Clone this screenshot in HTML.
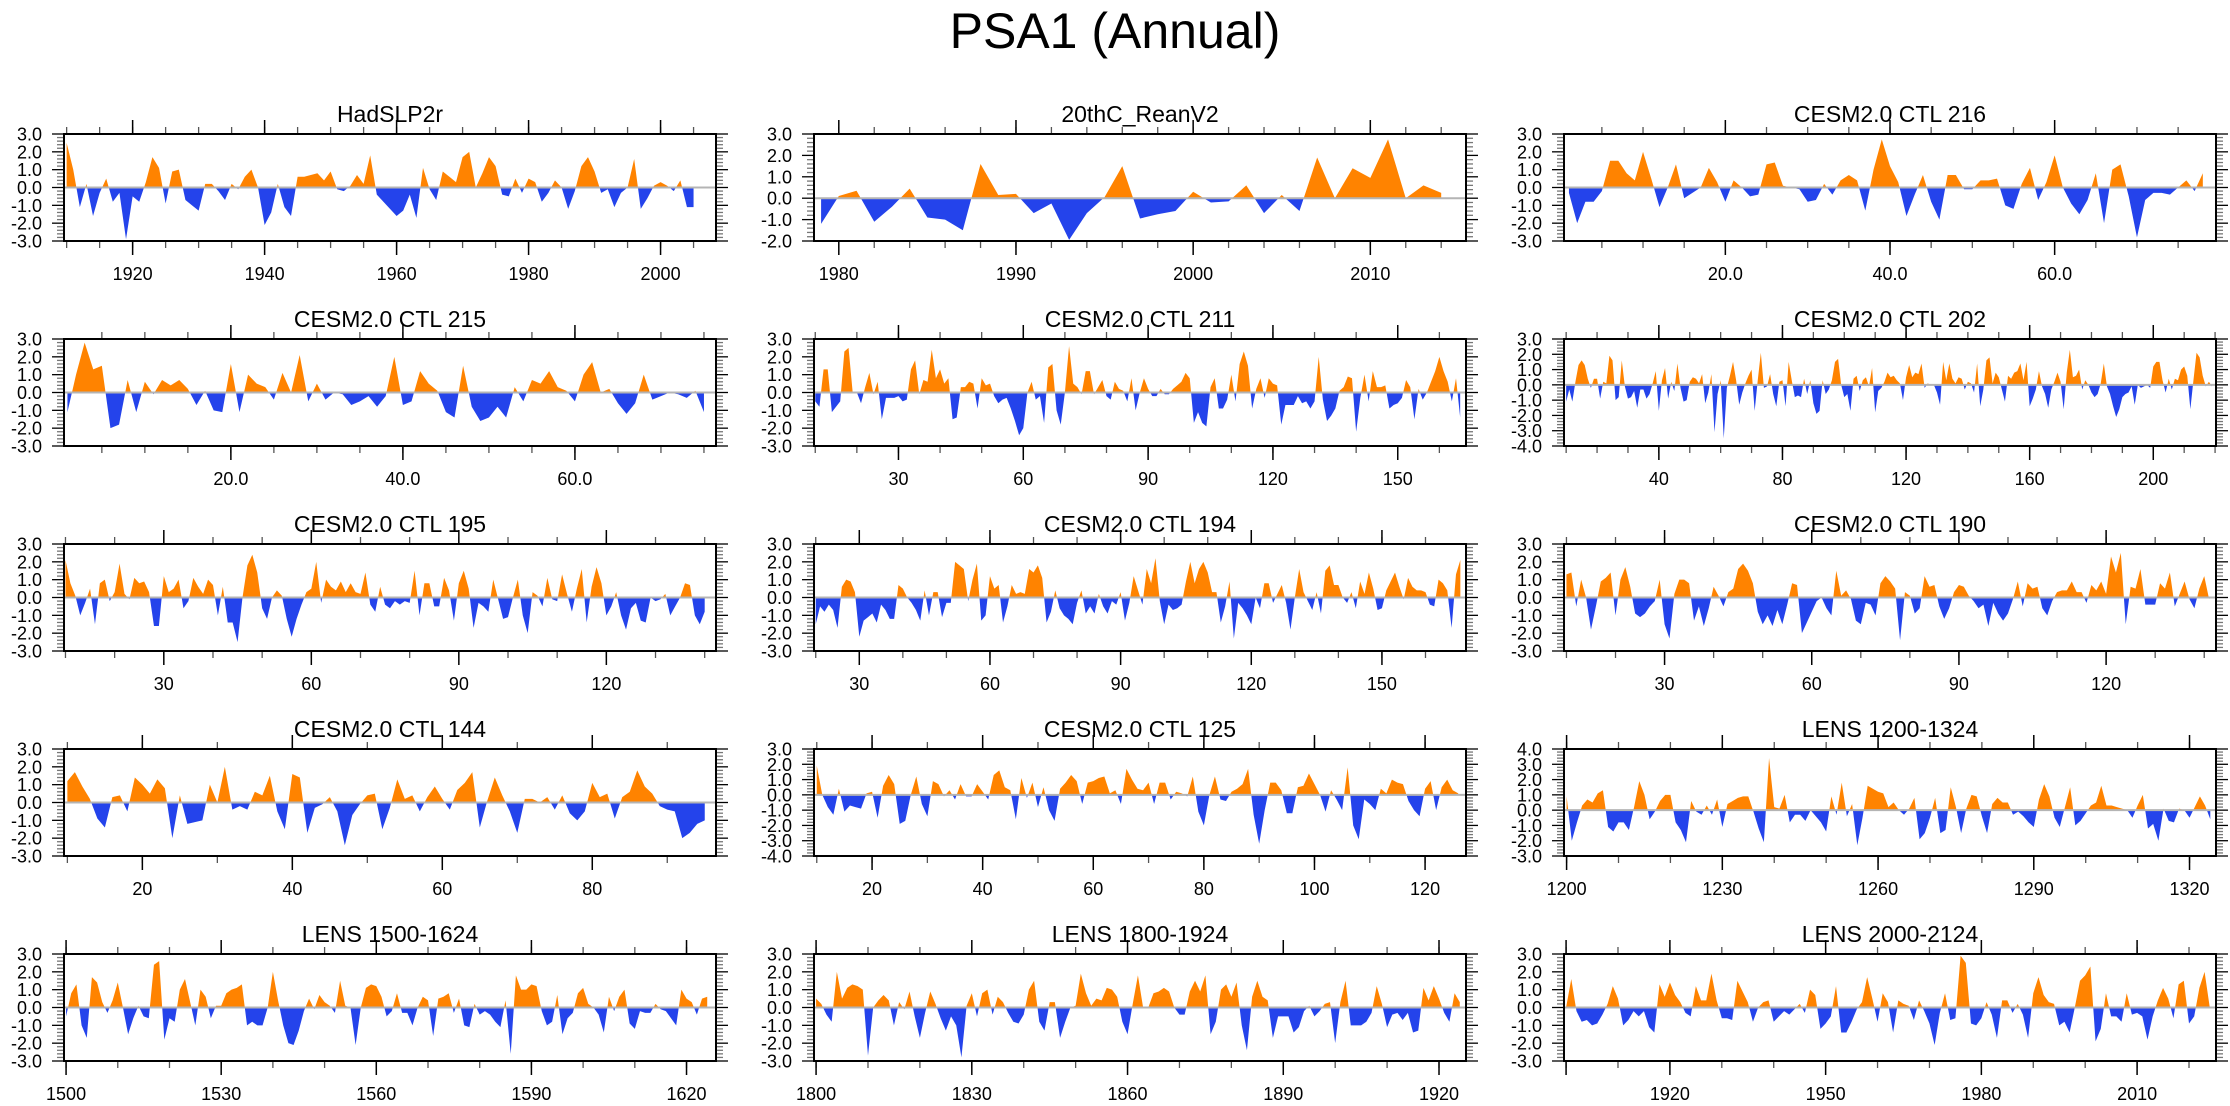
<!DOCTYPE html>
<html><head><meta charset="utf-8"><title>PSA1 (Annual)</title>
<style>
html,body{margin:0;padding:0;background:#fff;}
svg{display:block;font-family:"Liberation Sans",Arial,sans-serif;}
</style></head>
<body>
<svg id="chart" xmlns="http://www.w3.org/2000/svg" width="2230" height="1106" viewBox="0 0 2230 1106">
<text x="1115" y="48" text-anchor="middle" font-size="50" fill="#000">PSA1 (Annual)</text>
</svg>
<script>
// ---- data ----
const titles = ["HadSLP2r","20thC_ReanV2","CESM2.0 CTL 216","CESM2.0 CTL 215","CESM2.0 CTL 211","CESM2.0 CTL 202","CESM2.0 CTL 195","CESM2.0 CTL 194","CESM2.0 CTL 190","CESM2.0 CTL 144","CESM2.0 CTL 125","LENS 1200-1324","LENS 1500-1624","LENS 1800-1924","LENS 2000-2124"];
const startX = [1910,1979,1,1,10,10,10,20,10,10,10,1200,1500,1800,1900];
const xMin = [1909.6,1978.6,0.4,0.6,9.7,9.3,9.7,19.6,9.5,9.55,9.5,1199.5,1499.6,1799.6,1899.6];
const xMax = [2008.4,2015.4,79.6,76.4,166.4,220.3,142.3,169.3,142.4,96.5,127.4,1325.1,1625.7,1925.2,2025.2];
const yMin = [-3,-2,-3,-3,-3,-4,-3,-3,-3,-3,-4,-3,-3,-3,-3];
const yMax = [3,3,3,3,3,3,3,3,3,3,3,4,3,3,3];
const majorTicks = [
 [1920,1940,1960,1980,2000],[1980,1990,2000,2010],[20,40,60],[20,40,60],[30,60,90,120,150],
 [40,80,120,160,200],[30,60,90,120],[30,60,90,120,150],[30,60,90,120],[20,40,60,80],
 [20,40,60,80,100,120],[1200,1230,1260,1290,1320],[1500,1530,1560,1590,1620],[1800,1830,1860,1890,1920],[1900,1920,1950,1980,2010]];
const tickLabels = [
 ["1920","1940","1960","1980","2000"],["1980","1990","2000","2010"],["20.0","40.0","60.0"],["20.0","40.0","60.0"],["30","60","90","120","150"],
 ["40","80","120","160","200"],["30","60","90","120"],["30","60","90","120","150"],["30","60","90","120"],["20","40","60","80"],
 ["20","40","60","80","100","120"],["1200","1230","1260","1290","1320"],["1500","1530","1560","1590","1620"],["1800","1830","1860","1890","1920"],["","1920","1950","1980","2010"]];
const minorStep = [5,2,5,5,10,10,10,10,10,10,10,10,10,10,10];

const hadslp = [2.5,1.0,-1.1,0.2,-1.6,-0.3,0.5,-0.8,-0.3,-2.9,-0.5,-0.8,0.3,1.7,1.1,-0.9,0.9,1.0,-0.7,-1.0,-1.3,0.2,0.2,-0.2,-0.7,0.2,-0.1,0.6,1.0,0.0,-2.1,-1.4,0.2,-1.1,-1.6,0.6,0.6,0.7,0.8,0.4,0.9,-0.1,-0.2,0.1,0.7,0.2,1.8,-0.4,-0.8,-1.2,-1.6,-1.3,-0.4,-1.7,1.1,-0.1,-0.7,0.9,0.6,0.3,1.7,2.0,0.0,0.8,1.7,1.2,-0.4,-0.5,0.5,-0.3,0.5,0.3,-0.8,-0.3,0.4,0.0,-1.2,-0.2,1.2,1.7,0.9,-0.3,-0.1,-1.1,-0.3,0.0,1.6,-1.2,-0.6,0.1,0.3,0.1,-0.2,0.4,-1.1,-1.1];
const rean = [-1.2,0.1,0.35,-1.1,-0.4,0.45,-0.9,-1.0,-1.5,1.6,0.15,0.2,-0.7,-0.25,-1.95,-0.7,0.05,1.5,-0.95,-0.75,-0.6,0.3,-0.2,-0.15,0.6,-0.7,0.15,-0.6,1.9,0.0,1.4,0.95,2.75,0.0,0.6,0.25];
const ctl216 = [-0.3,-2.0,-0.8,-0.8,-0.2,1.5,1.5,0.8,0.4,2.0,0.5,-1.1,0.0,1.3,-0.6,-0.3,0.0,1.1,0.3,-0.8,0.4,0.0,-0.5,-0.4,1.3,1.4,0.1,0.0,-0.1,-0.8,-0.7,0.2,-0.4,0.4,0.7,0.4,-1.3,1.0,2.7,1.2,0.3,-1.6,-0.4,0.7,-0.8,-1.8,0.7,0.7,-0.1,-0.1,0.4,0.4,0.5,-1.0,-1.2,0.2,1.1,-0.7,0.3,1.8,0.0,-0.9,-1.5,-0.7,0.8,-2.0,1.0,1.3,-0.5,-2.8,-0.7,-0.3,-0.3,-0.4,0.0,0.4,-0.2,0.8];
const ctl215 = [-1.1,1.0,2.8,1.3,1.5,-2.0,-1.8,0.7,-1.1,0.6,-0.1,0.7,0.4,0.7,0.2,-0.7,0.1,-1.0,-1.1,1.6,-1.1,1.0,0.5,0.3,-0.4,1.1,0.0,2.1,-0.5,0.5,-0.4,0.0,-0.1,-0.7,-0.5,-0.2,-0.8,-0.2,2.0,-0.7,-0.5,1.2,0.5,0.1,-1.1,-1.4,1.5,-0.8,-1.6,-1.4,-0.8,-1.4,0.3,-0.5,0.7,0.5,1.2,0.3,0.1,-0.5,1.0,1.7,0.0,0.2,-0.6,-1.2,-0.6,1.0,-0.4,-0.2,0.0,-0.1,-0.3,0.1,-1.1];
const ctl211 = [-0.5,-0.8,1.3,1.3,-1.1,-0.8,-0.5,2.3,2.5,0.0,0.0,-0.6,0.3,1.1,-0.1,0.6,-1.5,-0.3,-0.3,-0.3,-0.2,-0.5,-0.4,1.3,1.8,-0.1,0.7,0.6,2.4,0.8,1.3,0.5,0.8,-1.5,-1.4,0.3,0.3,0.6,0.5,-0.9,0.8,0.4,0.5,-0.2,-0.6,-0.4,-0.3,-0.9,-1.6,-2.4,-2.0,0.0,0.6,-0.4,-0.2,-1.7,1.4,1.6,-1.0,-1.8,0.0,2.6,0.5,0.3,-0.1,1.2,1.2,-0.1,0.3,0.7,-0.2,-0.4,0.6,0.2,0.1,-0.5,0.8,-1.0,0.0,0.8,0.2,-0.2,-0.2,0.2,-0.1,-0.1,0.2,0.4,0.6,1.1,0.8,-1.7,-1.1,-1.7,-1.9,0.3,0.8,-0.9,-0.9,-0.4,1.0,-0.5,1.6,2.3,1.5,-0.9,0.2,0.8,-0.3,0.8,0.5,0.4,-1.8,-0.7,-0.7,-0.7,-0.2,-0.6,-0.5,-0.9,-0.5,2.0,-0.4,-1.6,-1.3,-0.9,0.1,0.3,0.9,0.8,-2.2,-0.3,1.0,-0.5,1.2,0.3,0.3,0.4,-0.9,-0.7,-0.6,-0.3,0.7,0.3,-1.5,0.2,-0.4,0.0,0.6,1.2,2.0,1.2,0.6,-0.5,0.8,-1.4];
const ctl202 = [-1.1,-0.3,-1.1,0.2,1.3,1.6,1.3,0.4,-0.2,0.4, 0.4,-0.9,0.2,0.1,1.9,1.6,-1.0,-0.8,1.6,-0.1, -0.9,-0.8,-0.4,-1.5,-0.3,-0.3,-0.9,-0.6,0.1,0.9, -1.7,0.3,1.1,-0.9,0.2,-0.4,1.4,-0.2,-1.1,-1.0, 0.2,0.5,0.4,0.1,0.7,-1.2,-0.5,0.7,-3.1,-0.6, 0.3,-3.5,-0.2,0.6,1.5,0.3,-1.3,-0.5,0.1,0.6, 1.0,-1.7,0.3,2.1,-0.2,-0.1,0.7,-0.6,-1.4,0.2, 0.3,-1.4,1.5,0.3,-0.8,-0.7,-0.8,0.4,-0.6,0.3, -1.2,-1.9,-1.7,0.3,-0.6,-0.3,0.3,1.5,1.7,0.0, -0.8,-0.6,-1.7,0.4,0.6,-0.4,0.3,0.5,-0.1,1.1, -1.8,-0.4,-0.2,0.2,0.8,0.5,0.6,0.3,0.1,-1.0, 0.5,1.3,0.5,0.8,0.7,1.4,-0.2,0.1,0.0,0.0, -0.5,-1.3,1.5,0.3,1.4,0.4,0.1,0.5,0.4,-0.3, 0.2,0.1,-0.5,1.4,-1.4,-0.3,1.6,1.8,0.1,0.8, 0.5,-0.3,-1.1,0.6,0.4,0.8,0.9,1.4,0.3,1.5, -1.4,-0.9,-0.3,0.9,-0.1,-0.6,-1.5,-0.3,0.2,0.8, 0.2,-1.6,0.8,2.3,0.5,0.6,1.0,-0.3,0.3,0.0, -0.5,-0.8,-0.6,0.1,1.4,-0.1,-0.6,-1.4,-2.1,-1.6, -0.8,-0.6,-0.5,-0.1,-1.3,0.0,-0.2,-0.1,0.0,-0.2, 1.2,1.5,1.5,0.3,-0.5,0.4,-0.3,0.4,0.3,1.0, 1.2,0.6,-1.6,0.3,2.1,1.8,0.6,-0.1,0.2,-0.1];
const ctl195 = [2.1,0.8,0.1,-1.0,-0.3,0.5,-1.5,0.8,1.0,-0.2,0.3,1.9,0.2,-0.1,1.1,0.8,0.9,0.3,-1.6,-1.6,1.2,0.3,0.5,1.0,-0.6,-0.2,1.1,0.6,0.2,1.0,0.7,-1.0,0.6,-1.4,-1.4,-2.5,0.0,1.8,2.4,1.4,-0.6,-1.2,0.0,0.4,0.1,-1.2,-2.2,-1.2,-0.4,0.3,0.5,2.0,-0.3,1.0,0.6,0.4,0.9,0.3,0.8,0.3,0.2,1.4,-0.4,-0.8,0.6,-0.4,-0.6,-0.2,-0.4,-0.2,-0.3,1.5,-1.0,0.8,0.8,-0.5,-0.5,1.1,0.4,-1.3,0.8,1.5,0.5,-1.7,-0.3,-0.5,-0.8,1.0,-0.1,-1.2,-1.1,0.0,1.0,-1.0,-2.0,0.3,0.1,-0.5,1.1,-0.1,-0.2,1.3,0.2,-0.8,0.5,1.6,-1.4,0.6,1.7,0.8,-1.0,-0.5,0.3,-1.0,-1.8,-0.6,-0.3,-1.3,-1.4,0.0,-0.2,-0.1,0.2,-1.0,-0.5,0.0,0.8,0.7,-1.0,-1.5,-0.8];
const ctl194 = [-1.5,-0.5,-0.8,-0.4,-0.7,-1.7,0.6,1.0,0.9,0.3,-2.2,-1.3,-1.1,-0.9,-1.4,-0.4,-0.7,-1.2,-1.2,0.7,0.5,0.0,-0.3,-0.7,-1.3,0.4,-1.0,0.3,0.3,-1.1,-0.3,-0.3,2.0,1.8,1.6,-0.2,1.0,1.9,-1.3,-1.0,1.2,0.5,0.7,-1.4,-0.5,0.7,0.2,0.3,0.2,1.6,1.4,1.8,1.1,-1.4,-0.8,0.4,-0.6,-1.0,-1.2,-1.5,-0.3,0.4,-0.9,-0.5,-0.9,0.2,-0.5,-0.9,-0.2,-0.4,0.3,-1.3,-0.3,1.2,0.4,-0.4,1.6,0.8,2.2,-0.2,-1.5,-0.4,-0.7,-0.6,-0.4,0.9,2.0,0.8,1.6,2.0,1.4,0.3,0.3,-1.4,-0.5,0.9,-2.3,-0.3,-0.6,-1.0,-1.5,0.0,-0.6,0.8,0.8,-0.3,0.2,0.7,-0.3,-1.8,0.0,1.6,0.3,-0.2,-0.7,0.3,-0.9,1.5,1.8,0.7,0.7,0.0,-0.3,0.3,-0.6,0.9,0.2,1.4,0.5,-0.7,-0.6,0.4,0.9,1.4,0.6,-0.1,1.1,0.6,0.4,0.4,0.3,-0.4,-0.5,1.0,0.8,0.4,-1.7,1.3,2.1];
const ctl190 = [1.3,1.4,-0.5,1.0,0.0,-1.8,-0.5,0.9,1.1,1.4,-1.0,1.0,1.7,0.6,-0.9,-1.1,-0.9,-0.5,-0.2,1.0,-1.5,-2.3,0.2,1.0,1.0,0.8,-1.3,-0.5,-1.6,-0.6,0.6,0.1,-0.5,0.3,0.5,1.6,1.9,1.5,0.8,-0.8,-1.5,-1.0,-1.6,-0.7,-1.5,-0.4,0.8,0.7,-2.0,-1.4,-0.8,-0.2,0.0,-0.6,-1.0,1.5,0.1,0.4,-0.1,-1.3,-1.5,-0.3,-0.4,-1.0,0.8,1.2,0.9,0.5,-2.4,0.3,0.1,-0.9,-0.6,1.2,0.6,0.7,-0.5,-1.2,-0.6,0.3,0.7,0.6,0.1,-0.2,-0.6,-0.4,-1.6,-0.3,-0.9,-1.3,-0.9,-0.1,0.9,-0.5,0.8,0.5,0.6,-0.6,-1.0,-0.2,0.3,0.4,0.4,0.9,0.3,0.3,-0.3,0.7,0.4,0.9,0.2,2.3,1.4,2.5,-1.5,0.6,0.5,1.6,-0.4,-0.4,-0.4,0.8,0.5,1.4,-0.5,0.2,0.9,-0.1,-0.6,0.5,1.2,-0.1];
const ctl144 = [1.2,1.7,0.9,0.2,-0.9,-1.4,0.3,0.4,-0.5,1.4,1.0,0.5,1.3,0.8,-2.0,0.4,-1.2,-1.1,-1.0,1.0,0.0,2.0,-0.4,-0.2,-0.4,0.6,0.4,1.5,-0.5,-1.5,1.6,1.4,-1.7,-0.3,-0.1,0.3,-0.5,-2.4,-0.7,-0.1,0.4,0.5,-1.5,-0.3,1.3,0.2,0.4,-0.5,0.3,0.9,0.2,-0.4,0.7,1.1,1.7,-1.4,0.1,1.4,0.4,-0.5,-1.7,0.2,0.2,0.0,0.3,-0.4,0.4,-0.6,-1.0,-0.5,1.1,0.3,0.5,-0.9,0.3,0.6,1.8,0.9,0.5,-0.2,-0.4,-0.5,-2.0,-1.7,-1.2,-1.0];
const ctl125 = [1.9,0.0,-0.8,-1.3,0.4,-1.1,-0.7,-0.8,-0.9,0.1,0.2,-1.5,0.6,1.3,0.7,-1.9,-1.7,0.0,1.2,-0.6,-1.4,0.9,0.7,-0.1,0.3,-0.3,0.7,-0.1,-0.1,0.7,0.2,-0.3,1.3,1.6,0.5,0.3,-1.6,1.1,-0.2,0.8,-0.8,0.5,-1.0,-1.7,0.4,0.8,1.3,0.9,-0.6,0.8,0.9,1.1,1.2,0.1,0.3,-0.6,1.7,1.0,0.4,0.3,0.8,-0.6,0.8,0.8,-0.3,0.2,0.1,-0.1,1.2,-1.1,-2.0,0.0,1.2,-0.3,-0.4,0.2,0.4,0.7,1.7,-1.3,-3.2,-1.0,0.8,0.8,0.3,-1.2,-1.2,0.5,0.6,1.4,0.7,0.0,-1.1,0.3,-0.3,-1.0,1.8,-2.0,-2.9,-0.3,-0.6,-1.0,0.4,0.1,1.0,0.8,0.7,-0.4,-1.0,-1.4,0.4,0.9,-1.0,0.5,1.0,0.3,0.1];
const lens1200 = [0.9,-2.0,-0.8,0.3,0.7,0.5,1.1,1.3,-1.1,-1.4,-0.8,-0.8,-1.3,0.2,1.9,1.0,-0.6,-0.1,0.6,1.0,1.0,-0.8,-1.3,-2.1,0.6,-0.1,-0.3,0.3,-0.3,0.7,-1.1,0.4,0.6,0.8,0.9,0.9,-0.1,-1.2,-2.1,3.4,0.2,0.1,1.0,-0.8,-0.3,-0.3,-0.7,0.0,-0.4,-0.8,-1.4,0.9,-0.3,1.8,-0.4,0.4,-2.3,-0.5,1.6,1.4,1.2,1.1,0.2,0.5,0.0,-0.3,0.1,0.8,-1.9,-1.5,-0.5,0.8,-1.5,-1.3,1.5,0.2,-1.5,0.1,1.0,0.9,-0.4,-1.5,0.4,0.8,0.5,0.5,-0.3,-0.1,-0.4,-0.8,-1.1,0.7,1.7,0.9,-0.5,-1.1,0.2,1.5,-1.0,-0.7,-0.2,0.3,0.5,1.6,0.3,0.3,0.2,0.1,0.0,-0.5,0.3,1.0,-1.2,-0.9,-2.0,0.1,-0.7,-0.8,0.1,0.0,-0.5,0.2,0.9,0.3,-0.6];
const lens1500 = [-0.5,0.8,1.3,-1.0,-1.7,1.7,1.4,0.3,-0.3,0.4,1.4,0.0,-1.5,-0.6,0.1,-0.5,-0.6,2.4,2.6,-1.8,-0.6,-0.8,1.0,1.6,0.3,-1.0,1.0,0.6,-0.6,0.1,0.1,0.8,1.0,1.1,1.3,-1.0,-0.8,-1.0,-1.0,0.0,2.0,0.4,-1.0,-2.0,-2.1,-1.3,-0.2,0.5,-0.1,0.7,0.3,0.1,-0.3,1.5,0.1,0.0,-2.1,0.0,1.1,1.3,1.2,0.6,-0.5,-0.2,0.8,-0.3,-0.3,-1.0,0.0,0.6,0.4,-1.6,0.5,0.6,0.8,-0.3,0.5,-1.0,-1.1,0.2,-0.4,-0.2,-0.4,-0.8,-1.1,0.4,-2.6,1.8,1.0,1.0,1.3,1.2,-0.2,-1.0,-0.8,0.7,-1.5,-0.6,-0.3,0.8,1.1,0.2,0.0,-0.4,-1.4,0.6,-0.2,0.6,1.0,-0.9,-1.2,-0.2,-0.3,-0.3,0.2,-0.1,-0.2,-0.6,-1.0,1.0,0.5,0.3,-0.4,0.5,0.6];
const lens1800 = [0.5,0.2,-0.4,-0.8,2.0,0.5,1.1,1.3,1.2,1.0,-2.7,0.0,0.4,0.7,0.4,-1.0,0.3,-0.1,0.9,-0.5,-1.7,-0.3,0.9,0.2,-0.6,-1.3,-0.5,-1.0,-2.8,0.1,0.8,-0.5,0.8,1.0,-0.4,0.6,0.3,-0.3,-0.8,-0.9,-0.4,1.0,1.5,-0.8,-1.3,0.3,0.3,-1.7,-0.8,0.0,0.1,1.9,0.8,0.1,0.5,0.4,1.1,1.0,0.6,-0.8,-1.5,0.2,1.8,0.0,0.0,0.8,0.9,1.1,0.9,0.0,-0.4,-0.4,0.9,1.5,0.9,1.8,-1.5,-0.8,1.0,1.3,0.6,1.4,-1.0,-2.4,0.6,1.5,0.6,0.4,-1.7,-0.5,-0.5,-0.5,-1.4,-1.1,-0.2,0.1,-0.5,-0.2,0.2,0.3,-2.0,0.3,1.5,-1.0,-1.0,-1.0,-0.8,-0.3,1.2,0.2,-1.1,-0.4,-0.3,-0.7,-0.3,-1.4,-1.3,1.1,0.4,1.2,0.5,-0.3,-0.8,0.8,0.3];
const lens2000 = [0.0,1.6,-0.2,-0.8,-0.7,-1.0,-0.9,-0.4,0.2,1.2,0.5,-1.0,-0.7,-0.2,-0.5,-0.2,-1.1,-1.4,1.3,0.6,1.4,0.7,0.3,-0.3,-0.5,1.2,0.4,0.4,1.9,0.4,-0.6,-0.6,-0.7,1.5,0.9,0.3,-0.8,0.0,0.3,0.4,-0.8,-0.5,-0.2,-0.4,-0.1,0.2,-0.3,1.0,0.7,-1.2,-0.9,-0.5,1.2,-1.4,-1.4,-0.8,-0.1,0.3,1.7,0.5,-0.8,0.8,0.3,-1.4,0.4,0.2,0.1,-0.7,0.4,-0.2,-0.9,-2.1,-0.3,0.8,-0.7,-0.6,2.9,2.5,-0.9,-1.0,-0.6,0.3,-0.4,-1.7,0.4,0.4,-0.3,0.2,-0.4,-1.7,0.8,1.7,0.7,0.3,0.2,-1.0,-0.8,-1.4,0.0,1.5,1.8,2.3,-1.9,-1.2,0.8,-0.5,-0.5,-0.8,0.8,-0.4,-0.3,-0.5,-1.8,-0.5,0.4,1.1,0.5,-0.6,1.3,1.5,-0.9,-0.5,1.1,2.0,0.0];
const seriesValues = [hadslp,rean,ctl216,ctl215,ctl211,ctl202,ctl195,ctl194,ctl190,ctl144,ctl125,lens1200,lens1500,lens1800,lens2000];

// ---- layout ----
const colLeft = [64, 814, 1564];
const rowTop = [134, 339, 544, 749, 954];
const PW = 652, PH = 107;
const ORANGE = "#ff8300", BLUE = "#2443eb";
const NS = "http://www.w3.org/2000/svg";
const svg = document.getElementById("chart");

function el(tag, attrs, parent) {
  const e = document.createElementNS(NS, tag);
  for (const k in attrs) e.setAttribute(k, attrs[k]);
  (parent || svg).appendChild(e);
  return e;
}

const defs = el("defs", {});

for (let p = 0; p < 15; p++) {
  const L = colLeft[p % 3], T = rowTop[Math.floor(p / 3)];
  const x0 = xMin[p], x1 = xMax[p], y0 = yMin[p], y1 = yMax[p];
  const sx = v => L + (v - x0) / (x1 - x0) * PW;
  const sy = v => T + (y1 - v) / (y1 - y0) * PH;
  const slug = titles[p].toLowerCase().replace(/[^a-z0-9]+/g, "-");

  const g = el("g", {});
  
  

  const t = el("text", {x: L + PW / 2, y: T - 12, "text-anchor": "middle", "font-size": 23, fill: "#000"}, g);
  t.textContent = titles[p];
  
  

  // clip paths
  const zy = sy(0);
  const cpA = el("clipPath", {id: "ca" + p}, defs);
  el("rect", {x: L, y: T, width: PW, height: zy - T}, cpA);
  const cpB = el("clipPath", {id: "cb" + p}, defs);
  el("rect", {x: L, y: zy, width: PW, height: T + PH - zy}, cpB);

  const vals = seriesValues[p];
  let d = "M" + sx(startX[p]).toFixed(2) + "," + zy.toFixed(2);
  for (let i = 0; i < vals.length; i++) d += " L" + sx(startX[p] + i).toFixed(2) + "," + sy(vals[i]).toFixed(2);
  d += " L" + sx(startX[p] + vals.length - 1).toFixed(2) + "," + zy.toFixed(2) + " Z";

  const pa = el("path", {d: d, fill: ORANGE, "clip-path": "url(#ca" + p + ")"}, g);
  
  
  const pb = el("path", {d: d, fill: BLUE, "clip-path": "url(#cb" + p + ")"}, g);
  
  

  const zl = el("line", {x1: L, x2: L + PW, y1: zy, y2: zy, stroke: "#b4b4b4", "stroke-width": 2}, g);
  
  

  // y ticks
  for (let k = Math.round(y0 * 5); k <= Math.round(y1 * 5); k++) {
    const v = k / 5, yy = sy(v), major = (k % 5 === 0);
    const len = major ? 12 : 7, col = major ? "#000" : "#777";
    el("line", {x1: L - len, x2: L, y1: yy, y2: yy, stroke: col, "stroke-width": 1.3}, g);
    el("line", {x1: L + PW, x2: L + PW + len, y1: yy, y2: yy, stroke: col, "stroke-width": 1.3}, g);
    if (major) {
      const yl = el("text", {x: L - 22, y: yy + 6.5, "text-anchor": "end", "font-size": 18, fill: "#000"}, g);
      yl.textContent = v.toFixed(1);
      
      
    }
  }
  // x minor ticks
  const ms = minorStep[p];
  for (let v = Math.ceil(x0 / ms) * ms; v <= x1; v += ms) {
    const xx = sx(v);
    el("line", {x1: xx, x2: xx, y1: T + PH, y2: T + PH + 7, stroke: "#555", "stroke-width": 1.3}, g);
    el("line", {x1: xx, x2: xx, y1: T, y2: T - 7, stroke: "#555", "stroke-width": 1.3}, g);
  }
  // x major ticks + labels
  for (let i = 0; i < majorTicks[p].length; i++) {
    const xx = sx(majorTicks[p][i]);
    el("line", {x1: xx, x2: xx, y1: T + PH, y2: T + PH + 14, stroke: "#000", "stroke-width": 1.5}, g);
    el("line", {x1: xx, x2: xx, y1: T, y2: T - 14, stroke: "#000", "stroke-width": 1.5}, g);
    if (tickLabels[p][i]) {
      const xl = el("text", {x: xx, y: T + PH + 39, "text-anchor": "middle", "font-size": 18, fill: "#000"}, g);
      xl.textContent = tickLabels[p][i];
      
      
    }
  }
  const fr = el("rect", {x: L, y: T, width: PW, height: PH, fill: "none", stroke: "#000", "stroke-width": 2}, g);
  
  
}
</script>
</body></html>
